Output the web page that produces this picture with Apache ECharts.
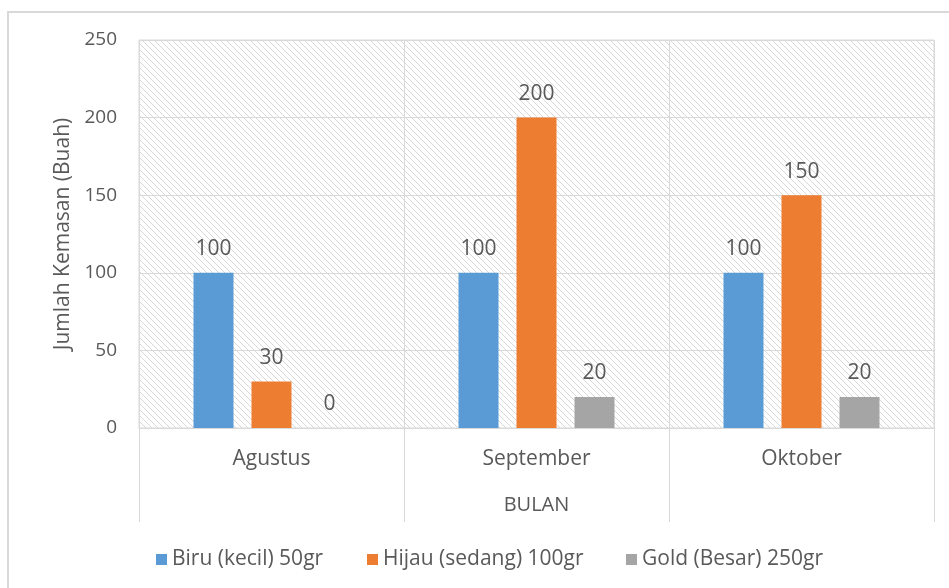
<!DOCTYPE html>
<html>
<head>
<meta charset="utf-8">
<script src="https://cdn.jsdelivr.net/npm/echarts@6/dist/echarts.min.js"></script>
<style>html,body{margin:0;padding:0;background:#fff}#c{width:949px;height:588px}</style>
</head>
<body>
<div id="c"></div>
<script>
const categories = ['Agustus', 'September', 'Oktober'];
const seriesNames = ['Biru (kecil) 50gr', 'Hijau (sedang) 100gr', 'Gold (Besar) 250gr'];
const biru = [100, 100, 100];
const hijau = [30, 200, 150];
const gold = [0, 20, 20];
const yTicks = [0, 50, 100, 150, 200, 250];

const FONT = 'Open Sans';
const TXT = '#595959';

// hatch pattern
const tile = document.createElement('canvas');
tile.width = 6; tile.height = 6;
const tctx = tile.getContext('2d');
tctx.fillStyle = '#ffffff';
tctx.fillRect(0, 0, 6, 6);
tctx.fillStyle = '#d8d8d8';
for (let i = 0; i < 6; i++) { tctx.fillRect(i, i, 1, 1); }

const chart = echarts.init(document.getElementById('c'));
const colors = ['#5b9bd5', '#ed7d31', '#a5a5a5'];
const dataSets = [biru, hijau, gold];
const legendLeft = [151, 362, 621];

chart.setOption({
  animation: false,
  textStyle: { fontFamily: FONT },
  graphic: [{
    type: 'rect', z: -10,
    shape: { x: 8, y: 12, width: 1100, height: 1000 },
    style: { fill: 'none', stroke: '#d9d9d9', lineWidth: 2 }
  }],
  grid: {
    left: 139, right: 15, top: 40, bottom: 160,
    show: true,
    backgroundColor: { image: tile, repeat: 'repeat' },
    borderColor: '#d9d9d9', borderWidth: 1
  },
  legend: seriesNames.map((n, i) => ({
    top: 544, left: legendLeft[i],
    itemWidth: 11, itemHeight: 11,
    icon: 'rect',
    textStyle: { color: TXT, fontSize: 21, fontFamily: FONT },
    data: [n]
  })),
  xAxis: {
    type: 'category', data: categories,
    name: 'BULAN', nameLocation: 'middle', nameGap: 67,
    nameTextStyle: { color: TXT, fontSize: 20, fontFamily: FONT },
    axisLine: { lineStyle: { color: '#d9d9d9' } },
    axisTick: { show: true, length: 94, interval: 0, lineStyle: { color: '#d9d9d9' } },
    axisLabel: { color: TXT, fontSize: 21, margin: 21, fontFamily: FONT },
    splitLine: { show: true, interval: 0, lineStyle: { color: '#d9d9d9' } }
  },
  yAxis: {
    type: 'value', min: yTicks[0], max: yTicks[yTicks.length - 1], interval: 50,
    name: 'Jumlah Kemasan (Buah)', nameLocation: 'middle', nameGap: 52,
    nameTextStyle: { color: TXT, fontSize: 21, fontFamily: FONT },
    axisLine: { show: false }, axisTick: { show: false },
    axisLabel: { color: TXT, fontSize: 19, margin: 22, fontFamily: FONT },
    splitLine: { lineStyle: { color: '#d9d9d9' } }
  },
  series: seriesNames.map((n, i) => ({
    name: n, type: 'bar', data: dataSets[i],
    barWidth: 40, barGap: '45%',
    itemStyle: { color: colors[i] },
    label: { show: true, position: 'top', distance: 13, color: TXT, fontSize: 21, fontFamily: FONT }
  }))
});
</script>
</body>
</html>
